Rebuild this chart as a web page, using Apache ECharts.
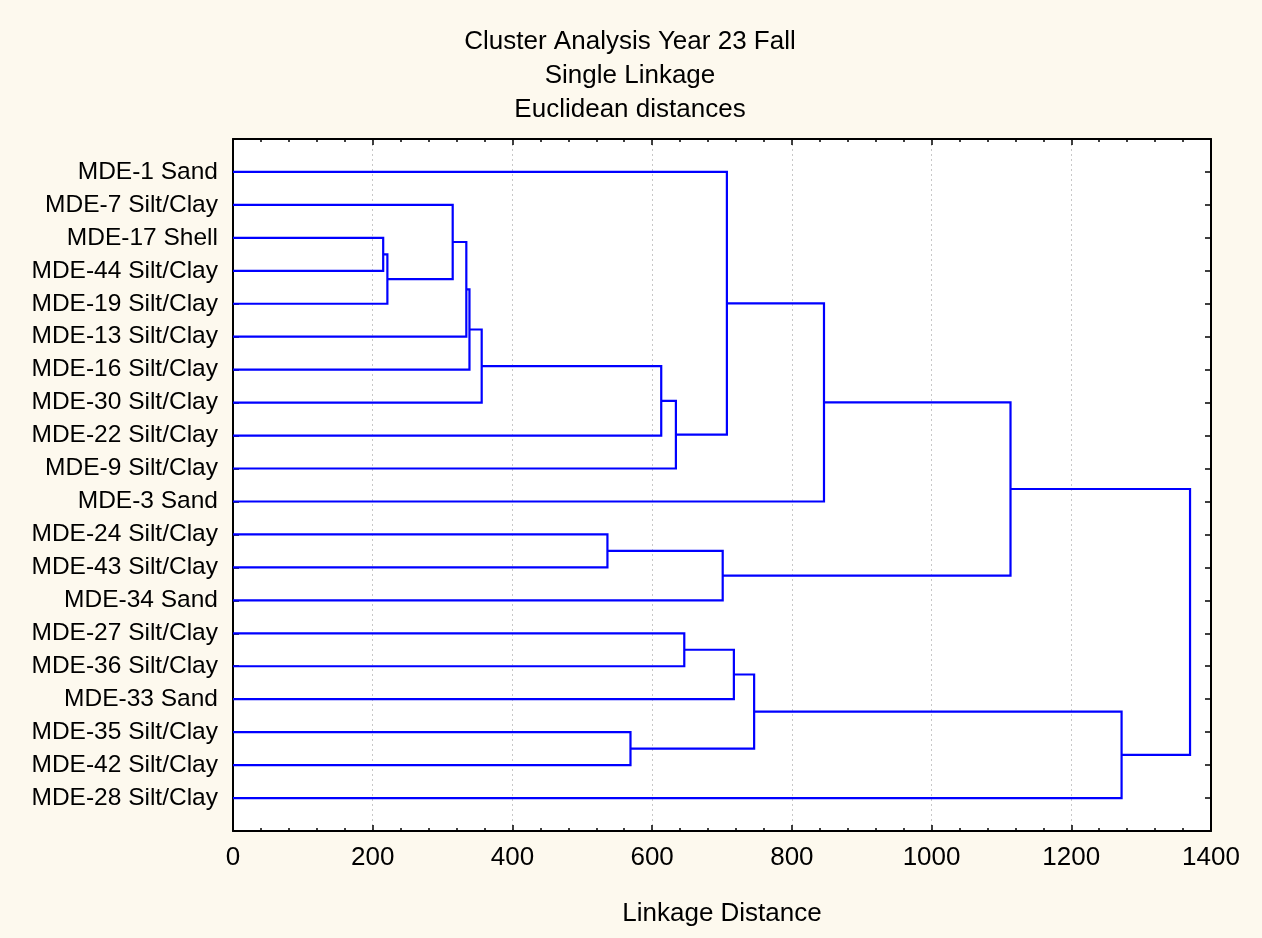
<!DOCTYPE html>
<html>
<head>
<meta charset="utf-8">
<script src="https://cdn.jsdelivr.net/npm/echarts@6/dist/echarts.min.js"></script>
<style>
html,body{margin:0;padding:0;background:#fdf9ee;}
#chart{width:1262px;height:938px;}
</style>
</head>
<body>
<div id="chart"></div>
<script>
// Leaves, top to bottom
const leaves = [
  'MDE-1 Sand','MDE-7 Silt/Clay','MDE-17 Shell','MDE-44 Silt/Clay','MDE-19 Silt/Clay',
  'MDE-13 Silt/Clay','MDE-16 Silt/Clay','MDE-30 Silt/Clay','MDE-22 Silt/Clay','MDE-9 Silt/Clay',
  'MDE-3 Sand','MDE-24 Silt/Clay','MDE-43 Silt/Clay','MDE-34 Sand','MDE-27 Silt/Clay',
  'MDE-36 Silt/Clay','MDE-33 Sand','MDE-35 Silt/Clay','MDE-42 Silt/Clay','MDE-28 Silt/Clay'
];
// Merge steps: children ids (0-19 leaves, 20+ clusters in merge order) and linkage distance
const mergeA = [2, 20, 1, 22, 23, 24, 25, 26, 0, 28, 11, 30, 29, 14, 33, 17, 34, 36, 32];
const mergeB = [3, 4, 21, 5, 6, 7, 8, 9, 27, 10, 12, 13, 31, 15, 16, 18, 35, 19, 37];
const mergeDist = [215, 221, 314.5, 334, 338.5, 356, 613, 634, 707, 846, 536, 701, 1113, 646, 717, 569, 746, 1272, 1370];
const xTicks = [0, 200, 400, 600, 800, 1000, 1200, 1400];

const titleLines = ['Cluster Analysis Year 23 Fall', 'Single Linkage', 'Euclidean distances'];
const xName = 'Linkage Distance';

// Build dendrogram node positions
const nodeY = leaves.map((_, i) => i);
const nodeH = leaves.map(() => 0);
const segData = [];
for (let k = 0; k < mergeDist.length; k++) {
  const a = mergeA[k], b = mergeB[k], h = mergeDist[k];
  segData.push([h, nodeH[a], nodeY[a], nodeH[b], nodeY[b]]);
  nodeY.push((nodeY[a] + nodeY[b]) / 2);
  nodeH.push(h);
}

const font = "'Liberation Sans', Arial, sans-serif";
const chart = echarts.init(document.getElementById('chart'), null, {renderer: 'canvas'});
const lineCol = '#0000ff';

chart.setOption({
  backgroundColor: '#fdf9ee',
  animation: false,
  title: titleLines.map((t, i) => ({
    text: t, left: 625, top: 24 + i * 34, textAlign: 'center',
    textStyle: {fontFamily: font, fontSize: 26, fontWeight: 'normal', color: '#000'}
  })),
  grid: {left: 233, right: 51, top: 139, bottom: 107, show: true, backgroundColor: '#ffffff', borderColor: '#000', borderWidth: 0},
  xAxis: [{
    type: 'value', min: 0, max: 1400, interval: 200, position: 'bottom',
    name: xName, nameLocation: 'middle', nameGap: 70,
    nameTextStyle: {fontFamily: font, fontSize: 26, color: '#000'},
    axisLine: {show: true, onZero: false, lineStyle: {color: '#000', width: 2}},
    axisTick: {show: true, inside: true, length: 6, lineStyle: {color: '#000', width: 1.5}},
    minorTick: {show: true, splitNumber: 5, length: 3, lineStyle: {color: '#000', width: 1.5}},
    axisLabel: {fontFamily: font, fontSize: 26, color: '#000', margin: 14,
      formatter: v => xTicks.includes(v) ? String(v) : ''},
    splitLine: {show: true, lineStyle: {color: '#c8c8c8', type: [2, 3], width: 1}}
  }, {
    type: 'value', min: 0, max: 1400, interval: 200, position: 'top',
    axisLine: {show: true, onZero: false, lineStyle: {color: '#000', width: 2}},
    axisTick: {show: true, inside: true, length: 6, lineStyle: {color: '#000', width: 1.5}},
    minorTick: {show: true, splitNumber: 5, length: 3, lineStyle: {color: '#000', width: 1.5}},
    axisLabel: {show: false}, splitLine: {show: false}
  }],
  yAxis: [{
    type: 'value', min: -1, max: 20, interval: 1, inverse: true, position: 'left',
    axisLine: {show: true, onZero: false, lineStyle: {color: '#000', width: 2}},
    axisTick: {show: true, inside: true, length: 6, lineStyle: {color: '#000', width: 1.5}},
    axisLabel: {fontFamily: font, fontSize: 24.5, color: '#000', margin: 15,
      formatter: v => (v >= 0 && v < leaves.length) ? leaves[v] : ''},
    splitLine: {show: false}
  }, {
    type: 'value', min: -1, max: 20, interval: 1, inverse: true, position: 'right',
    axisLine: {show: true, onZero: false, lineStyle: {color: '#000', width: 2}},
    axisTick: {show: true, inside: true, length: 6, lineStyle: {color: '#000', width: 1.5}},
    axisLabel: {show: false}, splitLine: {show: false}
  }],
  series: [{
    type: 'custom',
    xAxisIndex: 0, yAxisIndex: 0,
    data: segData,
    clip: false,
    renderItem: function (params, api) {
      const h = api.value(0), ha = api.value(1), ya = api.value(2), hb = api.value(3), yb = api.value(4);
      const p1 = api.coord([ha, ya]), p2 = api.coord([h, ya]), p3 = api.coord([h, yb]), p4 = api.coord([hb, yb]);
      return {
        type: 'polyline',
        shape: {points: [p1, p2, p3, p4]},
        style: {stroke: lineCol, lineWidth: 2.2, fill: null}
      };
    }
  }]
});
</script>
</body>
</html>
